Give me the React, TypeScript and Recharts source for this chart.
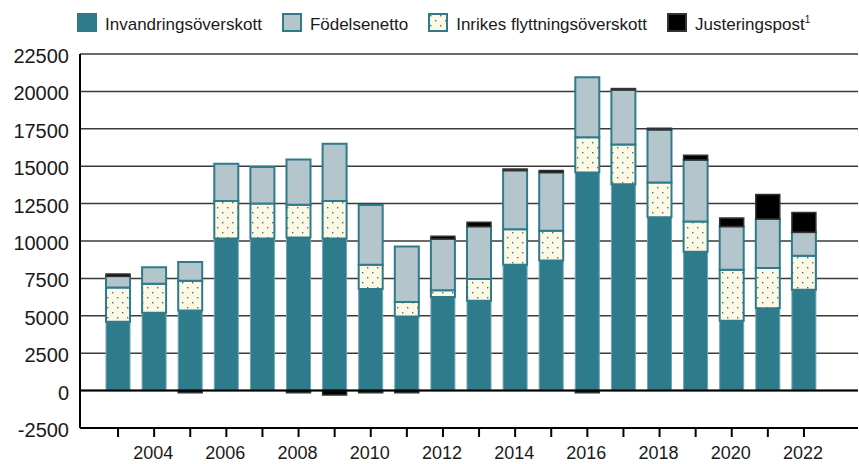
import { Bar, BarChart, CartesianGrid, ReferenceLine, XAxis, YAxis } from 'recharts';

const years = [2003, 2004, 2005, 2006, 2007, 2008, 2009, 2010, 2011, 2012, 2013, 2014, 2015, 2016, 2017, 2018, 2019, 2020, 2021, 2022];
const invandring = [4600, 5200, 5350, 10170, 10170, 10240, 10170, 6790, 4960, 6250, 6010, 8410, 8700, 14580, 13800, 11590, 9280, 4670, 5500, 6740];
const inrikes = [2300, 1950, 2000, 2500, 2330, 2180, 2500, 1620, 960, 450, 1450, 2380, 1980, 2360, 2650, 2320, 2030, 3410, 2700, 2270];
const fodelse = [740, 1100, 1250, 2500, 2450, 3020, 3830, 4000, 3710, 3430, 3510, 3920, 3900, 4000, 3650, 3520, 4110, 2890, 3270, 1580];
const justering = [150, 0, -150, 0, 0, -150, -300, -150, -150, 180, 290, 110, 130, -150, 90, 110, 310, 560, 1640, 1310];
const yTicks = [-2500, 0, 2500, 5000, 7500, 10000, 12500, 15000, 17500, 20000, 22500];

const TEAL = '#2E7B8C';
const GREY = '#B5C5CC';
const CREAM = '#FDF8E3';
const FONT = '"Liberation Sans", Arial, sans-serif';

const data = years.map((y, i) => ({
  year: y,
  invandring: invandring[i],
  inrikes: inrikes[i],
  fodelse: fodelse[i],
  justering: justering[i],
}));

const XTick = (props: any) => {
  const { x, y, payload } = props;
  if (Number(payload.value) % 2 !== 0) return <g />;
  return (
    <text x={x - 1} y={y + 22} textAnchor="middle" fontSize={18} fontFamily={FONT} fill="#1a1a1a">
      {payload.value}
    </text>
  );
};

const YTick = (props: any) => {
  const { x, y, payload } = props;
  return (
    <text x={x} y={y + 2} textAnchor="end" dominantBaseline="central" fontSize={20} fontFamily={FONT} fill="#1a1a1a">
      {payload.value}
    </text>
  );
};

const DotPattern = ({ id }: { id: string }) => (
  <pattern id={id} patternUnits="userSpaceOnUse" width={10} height={10}>
    <rect width={10} height={10} fill={CREAM} />
    <rect x={2} y={2} width={1.4} height={1.4} fill={TEAL} />
    <rect x={7} y={7} width={1.4} height={1.4} fill={TEAL} />
  </pattern>
);

const LegendBox = ({ kind }: { kind: string }) => {
  const fill = kind === 'teal' ? TEAL : kind === 'grey' ? GREY : kind === 'dots' ? 'url(#dotsLegend)' : '#000';
  const stroke = kind === 'black' ? '#333' : TEAL;
  return (
    <svg width={20} height={19} style={{ marginRight: 8, flex: 'none' }}>
      <rect x={1} y={1} width={18} height={17} fill={fill} stroke={stroke} strokeWidth={2} />
    </svg>
  );
};

const legendItems = [
  { kind: 'teal', label: 'Invandringsöverskott' },
  { kind: 'grey', label: 'Födelsenetto' },
  { kind: 'dots', label: 'Inrikes flyttningsöverskott' },
  { kind: 'black', label: 'Justeringspost' },
];

export default function App() {
  return (
    <div style={{ position: 'relative', width: 859, height: 464, background: '#fff' }}>
      <style>{`body{margin:0}`}</style>
      <svg width={0} height={0} style={{ position: 'absolute' }}>
        <defs>
          <DotPattern id="dotsLegend" />
        </defs>
      </svg>
      <div
        style={{
          position: 'absolute',
          left: 77,
          top: 13,
          height: 19,
          display: 'flex',
          alignItems: 'center',
          fontFamily: FONT,
          fontSize: 17,
          color: '#1a1a1a',
          whiteSpace: 'nowrap',
        }}
      >
        {legendItems.map((it) => (
          <div key={it.label} style={{ display: 'flex', alignItems: 'center', marginRight: 20 }}>
            <LegendBox kind={it.kind} />
            <span style={{ position: 'relative', top: 2 }}>
              {it.label}
              {it.kind === 'black' && <sup style={{ fontSize: 10 }}>1</sup>}
            </span>
          </div>
        ))}
      </div>
      <BarChart
        width={859}
        height={464}
        data={data}
        stackOffset="sign"
        barSize={24}
        margin={{ top: 54, right: 1, bottom: 0, left: 0 }}
      >
        <defs>
          <DotPattern id="dots" />
        </defs>
        <CartesianGrid vertical={false} stroke="#3a3a3a" strokeWidth={1.5} />
        <XAxis
          dataKey="year"
          interval={0}
          tick={<XTick />}
          tickSize={9}
          tickMargin={0}
          height={36}
          padding={{ left: 20, right: 36 }}
          axisLine={{ stroke: '#000', strokeWidth: 2 }}
          tickLine={{ stroke: '#000', strokeWidth: 2 }}
        />
        <YAxis
          domain={[-2500, 22500]}
          ticks={yTicks}
          interval={0}
          width={80}
          tickSize={0}
          tickMargin={11}
          tick={<YTick />}
          tickLine={false}
          axisLine={{ stroke: '#000', strokeWidth: 2 }}
        />
        <Bar dataKey="invandring" stackId="a" fill={TEAL} stroke="#6ea6b2" strokeWidth={1} isAnimationActive={false} />
        <Bar dataKey="inrikes" stackId="a" fill="url(#dots)" stroke={TEAL} strokeWidth={2} isAnimationActive={false} />
        <Bar dataKey="fodelse" stackId="a" fill={GREY} stroke={TEAL} strokeWidth={2} isAnimationActive={false} />
        <Bar dataKey="justering" stackId="a" fill="#000" stroke="#333" strokeWidth={1.5} isAnimationActive={false} />
        <ReferenceLine y={0} stroke="#000" strokeWidth={2} />
      </BarChart>
    </div>
  );
}
